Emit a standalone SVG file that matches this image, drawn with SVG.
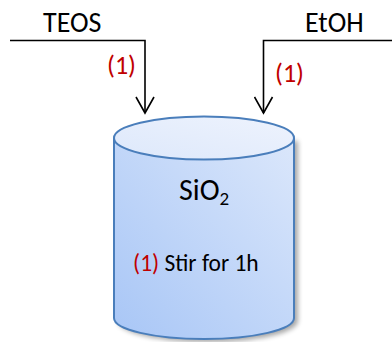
<svg xmlns="http://www.w3.org/2000/svg" width="392" height="342" viewBox="0 0 392 342">
  <defs>
    <linearGradient id="bodyFill" x1="0" y1="1" x2="1" y2="0">
      <stop offset="0" stop-color="#a8c6f6"/>
      <stop offset="1" stop-color="#dbe7fb"/>
    </linearGradient>
    <linearGradient id="topFill" x1="0" y1="1" x2="1" y2="0">
      <stop offset="0" stop-color="#dde8fb"/>
      <stop offset="1" stop-color="#eef3fd"/>
    </linearGradient>
    <filter id="shadow" x="-10%" y="-10%" width="130%" height="130%">
      <feGaussianBlur stdDeviation="2.5"/>
    </filter>
    <marker id="vhead" markerWidth="20" markerHeight="20" refX="17" refY="10" orient="auto" markerUnits="userSpaceOnUse" viewBox="0 0 20 20">
      <path d="M1,1 L17,10 L1,19" fill="none" stroke="#000" stroke-width="1.6"/>
    </marker>
  </defs>
  <style>
    .feed { fill: none; stroke: #000; stroke-width: 1.6; }
    .label { font-family: Carlito, "Liberation Sans", "Open Sans", sans-serif; fill: #000; }
    .step { fill: #c00000; }
    .vessel { stroke: #4a7ebb; stroke-width: 2; }
  </style>

  <!-- vessel: cylinder with soft drop shadow -->
  <g id="vessel">
    <path d="M118,141 L118,321 A90,21 0 0 0 298,321 L298,141 Z" fill="#000" opacity="0.35" filter="url(#shadow)"/>
    <path class="vessel" d="M114,138 L114,318 A90,21 0 0 0 294,318 L294,138" fill="url(#bodyFill)"/>
    <ellipse class="vessel" cx="204" cy="138" rx="90" ry="21.5" fill="url(#topFill)"/>
    <text class="label" x="179" y="199.5" font-size="30">SiO<tspan font-size="19" dy="5.5">2</tspan></text>
    <text class="label" x="133" y="271" font-size="23.5"><tspan class="step">(1)</tspan> Stir for 1h</text>
  </g>

  <!-- feed lines into the vessel -->
  <g id="connectors">
    <path class="feed" d="M10,40.5 L145,40.5 L145,113" marker-end="url(#vhead)"/>
    <path class="feed" d="M392,40.5 L263.5,40.5 L263.5,113" marker-end="url(#vhead)"/>
  </g>

  <g id="teos">
    <text class="label" x="43" y="32" font-size="28">TEOS</text>
    <text class="label step" x="107" y="74" font-size="26">(1)</text>
  </g>
  <g id="etoh">
    <text class="label" x="305" y="32" font-size="28">EtOH</text>
    <text class="label step" x="275" y="81.5" font-size="26">(1)</text>
  </g>
</svg>
